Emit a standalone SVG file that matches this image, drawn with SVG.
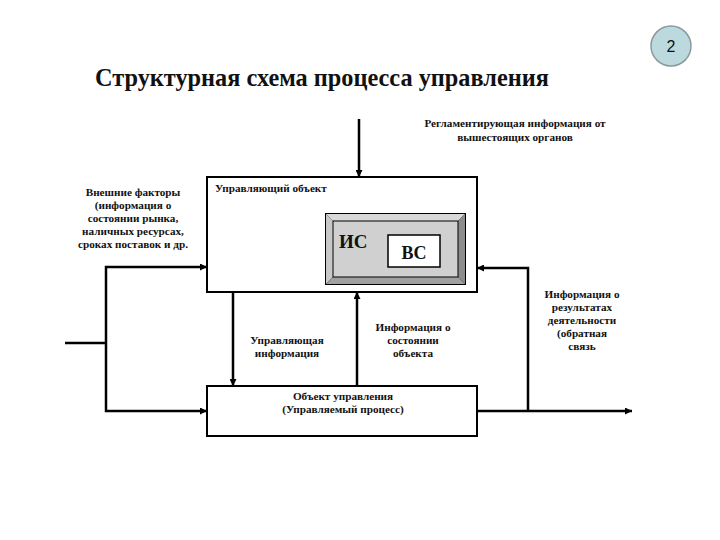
<svg xmlns="http://www.w3.org/2000/svg" width="720" height="540" viewBox="0 0 720 540">
<defs>
<marker id="ah" viewBox="0 0 10 10" refX="10" refY="5" markerWidth="8" markerHeight="7" orient="auto" markerUnits="userSpaceOnUse">
<path d="M0,0 L10,5 L0,10 z" fill="#000"/>
</marker>
<style>
.t{font-family:"Liberation Serif","Times New Roman",serif;font-weight:bold;font-size:11.2px;fill:#111;}
.c{text-anchor:middle;}
.box{fill:#fff;stroke:#000;stroke-width:2;}
.ln{fill:none;stroke:#000;stroke-width:2.5;}
.ar{marker-end:url(#ah);}
</style>
</defs>
<rect width="720" height="540" fill="#fff"/>
<g id="pagenum">
<circle cx="671" cy="46" r="20" fill="#bcdadd" stroke="#8a9a9c" stroke-width="1.5"/>
<text x="671" y="52" text-anchor="middle" style="font-family:'Liberation Sans',Arial,sans-serif;font-size:16px;fill:#111;">2</text>
</g>
<text x="95" y="86" style="font-family:'Liberation Serif','Times New Roman',serif;font-weight:bold;font-size:24.3px;fill:#111;">Структурная схема процесса управления</text>
<g id="connectors">
<line class="ln ar" x1="359" y1="119" x2="359" y2="177"/>
<polyline class="ln" points="65,343 106,343"/>
<polyline class="ln ar" points="106,343 106,267 207,267"/>
<polyline class="ln ar" points="106,343 106,411 207,411"/>
<polyline class="ln ar" points="528,411 528,268 477,268"/>
<line class="ln ar" x1="477" y1="411" x2="632" y2="411"/>
<line class="ln ar" x1="233" y1="293" x2="233" y2="386"/>
<line class="ln ar" x1="357" y1="386" x2="357" y2="292"/>
</g>
<g id="control">
<rect class="box" x="207" y="177" width="270" height="115"/>
<text class="t" x="215" y="192">Управляющий объект</text>
</g>
<g id="is">
<rect x="325" y="213" width="141" height="72" fill="#000"/>
<polygon points="326,214 465,214 458,221 333,221" fill="#d9d9d9"/>
<polygon points="326,214 333,221 333,277 326,284" fill="#c8c8c8"/>
<polygon points="465,214 465,284 458,277 458,221" fill="#8c8c8c"/>
<polygon points="326,284 333,277 458,277 465,284" fill="#a0a0a0"/>
<rect x="333" y="221" width="125" height="56" fill="#d0d0d0" stroke="#000" stroke-width="1"/>
<text x="339" y="248" style="font-family:'Liberation Serif','Times New Roman',serif;font-weight:bold;font-size:19px;fill:#111;">ИС</text>
</g>
<g id="vs">
<rect x="388" y="235" width="52" height="32" fill="#fff" stroke="#000" stroke-width="1.5"/>
<text x="414" y="259" text-anchor="middle" style="font-family:'Liberation Serif','Times New Roman',serif;font-weight:bold;font-size:18px;fill:#111;">ВС</text>
</g>
<g id="object">
<rect class="box" x="207" y="386" width="270" height="50"/>
<text class="t c" x="343" y="400">Объект управления</text>
<text class="t c" x="343" y="413">(Управляемый процесс)</text>
</g>
<g id="labels">
<text class="t c" x="515" y="127">Регламентирующая информация от</text>
<text class="t c" x="515" y="141">вышестоящих органов</text>
<text class="t c" x="133" y="196">Внешние факторы</text>
<text class="t c" x="133" y="209">(информация о</text>
<text class="t c" x="133" y="222">состоянии рынка,</text>
<text class="t c" x="133" y="235">наличных ресурсах,</text>
<text class="t c" x="133" y="248">сроках поставок и др.</text>
<text class="t c" x="582" y="298">Информация о</text>
<text class="t c" x="582" y="311">результатах</text>
<text class="t c" x="582" y="324">деятельности</text>
<text class="t c" x="582" y="337">(обратная</text>
<text class="t c" x="582" y="350">связь</text>
<text class="t c" x="287" y="344">Управляющая</text>
<text class="t c" x="287" y="357">информация</text>
<text class="t c" x="413" y="331">Информация о</text>
<text class="t c" x="413" y="344">состоянии</text>
<text class="t c" x="413" y="357">объекта</text>
</g>
</svg>
